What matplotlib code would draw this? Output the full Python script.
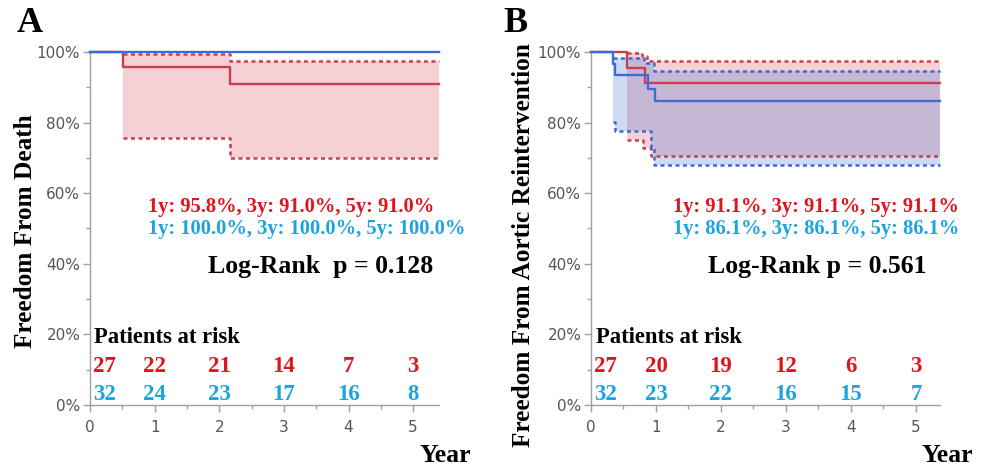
import matplotlib
matplotlib.use("Agg")
import matplotlib.pyplot as plt
from matplotlib.ticker import MultipleLocator, FuncFormatter

# ---------------- data ----------------
years = [0, 1, 2, 3, 4, 5]

# Panel A: freedom from death
a_red_t = [0, 0.51, 2.17]
a_red_s = [1.0, 0.958, 0.910]
a_red_ci_t = [0.51, 2.17]
a_red_up = [0.995, 0.975]
a_red_lo = [0.755, 0.700]
a_blue_t = [0]
a_blue_s = [1.0]
a_risk_red = [27, 22, 21, 14, 7, 3]
a_risk_blue = [32, 24, 23, 17, 16, 8]
a_txt_red = "1y: 95.8%, 3y: 91.0%, 5y: 91.0%"
a_txt_blue = "1y: 100.0%, 3y: 100.0%, 5y: 100.0%"
a_logrank = "Log-Rank  p = 0.128"

# Panel B: freedom from aortic reintervention
b_red_t = [0, 0.55, 0.83]
b_red_s = [1.0, 0.956, 0.911]
b_red_up_t = [0.55, 0.78, 0.86]
b_red_up = [0.998, 0.990, 0.975]
b_red_lo_t = [0.55, 0.80, 0.92]
b_red_lo = [0.750, 0.727, 0.705]
b_blue_t = [0, 0.34, 0.37, 0.88, 0.98]
b_blue_s = [1.0, 0.967, 0.935, 0.895, 0.861]
b_blue_up_t = [0.34, 0.82, 0.97]
b_blue_up = [0.983, 0.968, 0.946]
b_blue_lo_t = [0.34, 0.37, 0.93, 0.97]
b_blue_lo = [0.803, 0.777, 0.732, 0.680]
b_risk_red = [27, 20, 19, 12, 6, 3]
b_risk_blue = [32, 23, 22, 16, 15, 7]
b_txt_red = "1y: 91.1%, 3y: 91.1%, 5y: 91.1%"
b_txt_blue = "1y: 86.1%, 3y: 86.1%, 5y: 86.1%"
b_logrank = "Log-Rank p = 0.561"

# ---------------- style ----------------
RED_LINE = "#c8404f"
BLUE_LINE = "#3a6bd8"
RED_FILL = "#d9485a"
BLUE_FILL = "#3d6ad6"
RED_TXT = "#e3131c"
BLUE_TXT = "#1ba4e0"
SERIF = "Liberation Serif"

W, H = 986, 467
fig = plt.figure(figsize=(W / 100, H / 100), dpi=100)


def ext(t, v, tend):
    return list(t) + [tend], list(v) + [v[-1]]


def make_ax(x0, x1, xmax):
    ax = fig.add_axes([x0 / W, 1 - 405 / H, (x1 - x0) / W, (405 - 52) / H])
    ax.set_xlim(0, xmax)
    ax.set_ylim(0, 1.0)
    for s in ["top", "right"]:
        ax.spines[s].set_visible(False)
    for s in ["left", "bottom"]:
        ax.spines[s].set_color("#a0a0a0")
        ax.spines[s].set_linewidth(1.0)
    ax.yaxis.set_major_locator(MultipleLocator(0.2))
    ax.yaxis.set_minor_locator(MultipleLocator(0.1))
    ax.xaxis.set_major_locator(MultipleLocator(1))
    ax.xaxis.set_minor_locator(MultipleLocator(0.5))
    ax.yaxis.set_major_formatter(FuncFormatter(lambda v, p: f"{v*100:.0f}%"))
    ax.tick_params(which="both", direction="out", color="#a0a0a0", width=1.0)
    ax.tick_params(which="major", length=5, labelsize=11, labelcolor="#555555", pad=2)
    ax.tick_params(which="minor", length=3)
    ax.tick_params(axis="x", which="major", pad=6)
    return ax


def step(ax, t, v, tend, color, ls="-"):
    tt, vv = ext(t, v, tend)
    if ls == "-":
        ax.step(tt, vv, where="post", color=color, lw=1.7, clip_on=False, zorder=4)
    else:
        ax.step(tt, vv, where="post", color=color, lw=1.8, clip_on=False,
                zorder=3, linestyle=(0, (1.6, 1.4)))


def band(ax, tu, up, tl, lo, tend, color):
    tu2, up2 = ext(tu, up, tend)
    tl2, lo2 = ext(tl, lo, tend)
    grid = sorted(set(tu2) | set(tl2))

    def val(ts, vs, x):
        r = vs[0]
        for a, b in zip(ts, vs):
            if a <= x:
                r = b
        return r
    u = [val(tu2, up2, g) for g in grid]
    l = [val(tl2, lo2, g) for g in grid]
    ax.fill_between(grid, l, u, step="post", color=color, alpha=0.25, lw=0, zorder=1)


def annotate(ax, risk_red, risk_blue, txt_red, txt_blue, logrank,
             txt_x, lr_x, first_x, pr_x):
    kw = dict(transform=ax.transData, family=SERIF, weight="bold")
    ax.text(txt_x, 0.561, txt_red, color=RED_TXT, fontsize=14.8, ha="left", va="center", **kw)
    ax.text(txt_x, 0.499, txt_blue, color=BLUE_TXT, fontsize=14.8, ha="left", va="center", **kw)
    ax.text(lr_x, 0.391, logrank, color="black", fontsize=18.5, ha="left", va="center", **kw)
    ax.text(pr_x, 0.190, "Patients at risk", color="black", fontsize=16.3, ha="left", va="center", **kw)
    for i, (yr, r, b) in enumerate(zip(years, risk_red, risk_blue)):
        x = first_x if i == 0 else yr
        ax.text(x, 0.110, str(r), color=RED_TXT, fontsize=16.5, ha="center", va="center", **kw)
        ax.text(x, 0.031, str(b), color=BLUE_TXT, fontsize=16.5, ha="center", va="center", **kw)


# ---------------- Panel A ----------------
axA = make_ax(90, 439, 5.40)
band(axA, a_red_ci_t, a_red_up, a_red_ci_t, a_red_lo, 5.40, RED_FILL)
step(axA, a_red_ci_t, a_red_up, 5.40, RED_LINE, ls=":")
step(axA, a_red_ci_t, a_red_lo, 5.40, RED_LINE, ls=":")
step(axA, a_red_t, a_red_s, 5.40, RED_LINE)
step(axA, a_blue_t, a_blue_s, 5.40, BLUE_LINE)
annotate(axA, a_risk_red, a_risk_blue, a_txt_red, a_txt_blue, a_logrank,
         0.90, 1.83, 0.23, 0.06)

# ---------------- Panel B ----------------
axB = make_ax(591, 940, 5.37)
band(axB, b_red_up_t, b_red_up, b_red_lo_t, b_red_lo, 5.37, RED_FILL)
band(axB, b_blue_up_t, b_blue_up, b_blue_lo_t, b_blue_lo, 5.37, BLUE_FILL)
step(axB, b_red_up_t, b_red_up, 5.37, RED_LINE, ls=":")
step(axB, b_red_lo_t, b_red_lo, 5.37, RED_LINE, ls=":")
step(axB, b_blue_up_t, b_blue_up, 5.37, BLUE_LINE, ls=":")
step(axB, b_blue_lo_t, b_blue_lo, 5.37, BLUE_LINE, ls=":")
step(axB, b_red_t, b_red_s, 5.37, RED_LINE)
step(axB, b_blue_t, b_blue_s, 5.37, BLUE_LINE)
annotate(axB, b_risk_red, b_risk_blue, b_txt_red, b_txt_blue, b_logrank,
         1.26, 1.80, 0.22, 0.08)

# ---------------- labels ----------------
fig.text(30 / W, 1 - 24 / H, "A", family=SERIF, weight="bold", fontsize=26, ha="center", va="center")
fig.text(515 / W, 1 - 24 / H, "B", family=SERIF, weight="bold", fontsize=26, ha="center", va="center")
fig.text(26 / W, 1 - 231 / H, "Freedom From Death", family=SERIF, weight="bold", fontsize=18.2,
         rotation=90, ha="center", va="center")
fig.text(524 / W, 1 - 245 / H, "Freedom From Aortic Reintervention", family=SERIF, weight="bold",
         fontsize=18.2, rotation=90, ha="center", va="center")
fig.text(445 / W, 1 - 455 / H, "Year", family=SERIF, weight="bold", fontsize=18.5, ha="center", va="center")
fig.text(947 / W, 1 - 455 / H, "Year", family=SERIF, weight="bold", fontsize=18.5, ha="center", va="center")

fig.savefig("out.png", dpi=100, facecolor="white")
